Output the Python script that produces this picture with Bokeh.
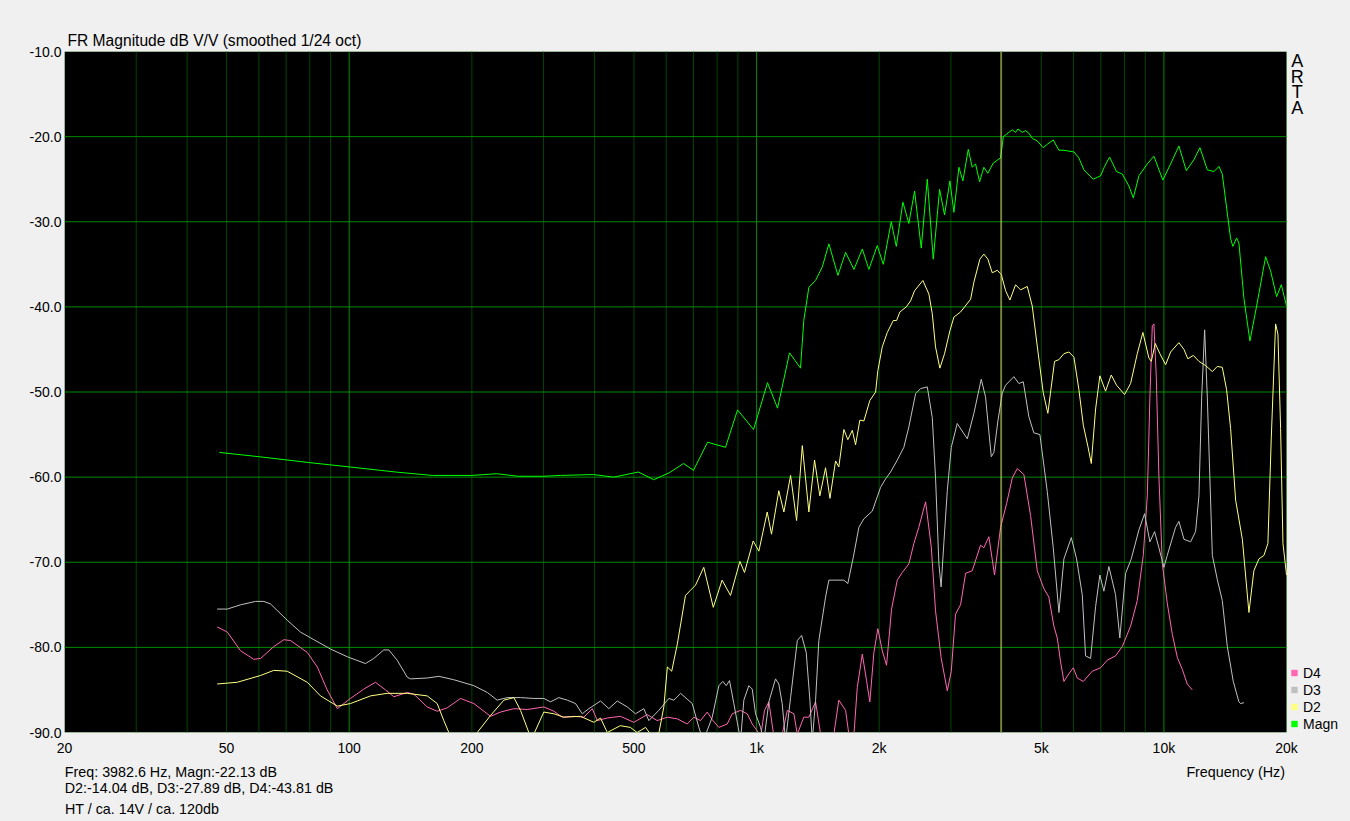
from bokeh.plotting import figure
from bokeh.models import (Range1d, FixedTicker, Span, Legend, LegendItem, LogAxis, Label,
                          BoxAnnotation, NumeralTickFormatter)
from bokeh.embed import file_html
from bokeh.resources import INLINE

# ---------------- data ----------------
magn_f = [48, 60, 80, 100, 130, 160, 200, 230, 260, 300, 330, 398, 446, 513, 559, 610,
          662, 700, 758, 839, 898, 983, 1064, 1126, 1205, 1282, 1306, 1344, 1396, 1450,
          1505, 1584, 1654, 1734, 1818, 1887, 1978, 2047, 2141, 2203, 2287, 2365, 2443,
          2537, 2625, 2715, 2814, 2894, 2983, 3051, 3139, 3210, 3309, 3384, 3448, 3528,
          3614, 3697, 3812, 3972, 4034, 4163, 4244, 4324, 4381, 4491, 4575, 4661, 4751,
          4887, 5056, 5172, 5350, 5524, 5682, 6012, 6184, 6362, 6707, 6990, 7150, 7355,
          7651, 7904, 8204, 8411, 8682, 9105, 9450, 9940, 10386, 10884, 11350, 11850,
          12260, 12780, 13270, 13650, 13910, 14580, 14770, 15080, 15280, 15720, 16260,
          16890, 17770, 18280, 18910, 19420, 20000]
magn_db = [-57.1, -57.6, -58.3, -58.8, -59.4, -59.8, -59.8, -59.6, -59.9, -59.9, -59.8,
           -59.7, -60.0, -59.4, -60.3, -59.5, -58.4, -59.2, -55.9, -56.5, -52.1, -54.4,
           -48.9, -51.9, -45.4, -47.2, -41.6, -37.7, -36.9, -35.3, -32.6, -36.3, -33.6,
           -35.6, -33.2, -35.6, -32.8, -35.0, -30.0, -32.9, -27.7, -30.2, -26.4, -33.1,
           -25.0, -34.4, -26.2, -29.2, -25.2, -28.9, -23.6, -25.2, -21.5, -23.6, -23.2,
           -25.3, -23.6, -24.3, -23.1, -22.5, -20.0, -19.5, -19.2, -19.5, -19.1, -19.5,
           -19.3, -19.6, -20.2, -20.5, -21.3, -20.9, -20.4, -21.6, -21.6, -21.8, -22.5,
           -23.9, -25.0, -24.6, -23.5, -22.4, -24.1, -24.4, -25.8, -27.2, -24.6, -23.2,
           -22.3, -25.1, -23.2, -21.1, -24.0, -22.7, -21.3, -23.9, -24.1, -23.5, -24.4,
           -32.0, -32.9, -31.9, -32.5, -39.0, -44.0, -39.9, -34.1, -35.8, -38.8, -37.4,
           -39.9]

d2_f = [47.4, 53.1, 60.6, 65.3, 70.4, 78.9, 85.0, 93.5, 100.7, 112.8, 123.9, 138.8, 155.4,
        164.4, 170.7, 175.6, 190, 206.2, 222.3, 239.7, 253.6, 263.4, 276, 280, 285.1,
        300.4, 318, 336.4, 369.7, 398.6, 414, 430, 463, 490, 509, 534, 549, 576, 592, 604,
        619, 639, 669, 688, 708, 742, 783, 823, 863, 910, 934, 981, 1013, 1062, 1088, 1134,
        1167, 1212, 1254, 1295, 1344, 1388, 1430, 1477, 1514, 1563, 1592, 1638, 1675, 1718,
        1750, 1793, 1834, 1897, 1960, 1985, 2035, 2094, 2166, 2207, 2248, 2331, 2388, 2443,
        2560, 2649, 2700, 2750, 2818, 2894, 2983, 3051, 3168, 3241, 3353, 3416, 3533, 3614,
        3697, 3790, 3899, 3988, 4087, 4187, 4324, 4448, 4619, 4751, 4887, 5056, 5189, 5389,
        5524, 5682, 5844, 6012, 6184, 6341, 6508, 6633, 6797, 6963, 7191, 7426, 7651, 8006,
        8284, 8602, 8879, 9186, 9312, 9524, 9775, 10097, 10386, 10884, 11200, 11450, 11810,
        12190, 12660, 13150, 13520, 13910, 14250, 14580, 15000, 15580, 16170, 16630, 17110,
        17600, 18000, 18350, 18800, 19050, 19340, 19600, 20000]
d2_db = [-84.3, -84.1, -83.3, -82.7, -82.8, -84.1, -85.7, -86.9, -86.6, -85.7, -85.4, -85.4,
         -85.7, -86.6, -88.6, -90.0, -93.0, -90.0, -88.0, -86.2, -85.9, -87.4, -90.0, -91.0,
         -90.0, -87.6, -87.8, -88.2, -88.1, -88.8, -88.3, -90.0, -89.2, -89.4, -90.0, -89.4,
         -90.2, -90.0, -87.0, -82.3, -82.8, -79.6, -73.9, -73.3, -72.7, -70.6, -75.3, -72.1,
         -73.9, -69.9, -71.2, -67.5, -68.7, -64.1, -66.7, -61.6, -64.1, -59.8, -65.1, -56.3,
         -64.1, -58.0, -62.2, -58.9, -62.5, -58.1, -58.8, -54.4, -55.6, -54.5, -56.2, -53.3,
         -53.4, -51.0, -50.0, -47.5, -44.7, -43.0, -41.6, -41.6, -40.6, -40.0, -39.3, -38.1,
         -36.9, -38.5, -40.8, -44.7, -47.2, -45.5, -42.8, -41.2, -40.6, -40.0, -39.1, -37.1,
         -34.4, -33.8, -34.4, -36.0, -35.7, -36.2, -38.1, -39.2, -37.4, -38.0, -37.6, -39.9,
         -44.6, -50.1, -52.5, -46.4, -46.2, -45.5, -45.3, -45.9, -49.7, -53.9, -56.4, -58.4,
         -52.0, -48.1, -49.9, -48.0, -49.2, -50.3, -49.0, -45.5, -43.0, -46.0, -46.4, -44.3,
         -45.5, -46.8, -45.3, -44.2, -45.0, -46.1, -45.7, -46.4, -46.9, -47.6, -47.0, -47.1,
         -49.7, -54.3, -62.7, -67.3, -75.9, -71.0, -69.6, -69.2, -67.8, -55.3, -42.0, -43.2,
         -54.3, -67.8, -71.5]

d3_f = [47.4, 50.2, 54.1, 58.9, 61.7, 64.1, 70.4, 75.9, 81.9, 90.0, 98.9, 109.6, 114.9,
        121.6, 125.1, 131.1, 138.8, 141.4, 155.4, 166, 180.6, 202.3, 218.3, 230.8, 244.3,
        263.4, 283.9, 300.4, 312, 327, 343, 359.4, 373.3, 387.5, 414, 433.8, 455, 481.4,
        504.5, 528.7, 543.9, 575.5, 609, 626.5, 650.8, 695.2, 721.6, 740, 778.4, 808, 826.4,
        842.4, 858.2, 879.4, 901.6, 913.4, 930.6, 957.2, 975.8, 994.2, 1023, 1042, 1072,
        1113, 1134, 1156, 1178, 1212, 1259, 1290, 1324, 1352, 1370, 1396, 1422, 1477, 1505,
        1548, 1638, 1675, 1728, 1783, 1834, 1923, 2016, 2074, 2133, 2215, 2299, 2365, 2457,
        2527, 2625, 2700, 2750, 2803, 2838, 2883, 2939, 3006, 3109, 3291, 3416, 3561, 3649,
        3769, 3825, 3913, 4011, 4087, 4282, 4405, 4516, 4661, 4794, 4961, 5172, 5350, 5524,
        5682, 5925, 6103, 6303, 6422, 6607, 6797, 6963, 7122, 7326, 7608, 7795, 8052, 8316,
        8682, 8965, 9239, 9487, 9721, 10000, 10190, 10680, 10884, 11200, 11630, 11960,
        12190, 12380, 12590, 12780, 13150, 13520, 13910, 14310, 14800, 15280, 15430, 15720]
d3_db = [-75.5, -75.5, -75.0, -74.6, -74.6, -74.9, -76.8, -78.2, -79.1, -80.2, -81.1, -81.9,
         -81.3, -80.3, -80.3, -81.5, -83.5, -83.7, -83.6, -83.4, -83.8, -84.5, -85.3, -86.2,
         -85.9, -85.9, -86.0, -86.0, -86.4, -85.9, -86.2, -86.6, -87.8, -87.2, -86.3, -87.2,
         -86.3, -87.0, -87.8, -87.2, -88.6, -87.4, -86.0, -86.2, -85.4, -86.6, -89.4, -91.0,
         -88.2, -84.5, -84.0, -84.5, -83.9, -86.6, -89.4, -91.0, -86.2, -84.5, -84.9, -87.8,
         -89.4, -91.0, -86.4, -83.7, -84.3, -86.6, -91.0, -85.9, -79.2, -78.6, -80.6, -86.2,
         -91.0, -86.2, -79.2, -74.1, -72.1, -72.1, -72.1, -72.5, -69.4, -65.9, -64.9, -64.0,
         -61.2, -60.2, -59.4, -58.0, -56.5, -54.1, -50.2, -49.6, -49.4, -53.0, -60.0, -70.2,
         -72.9, -67.7, -61.6, -56.5, -53.7, -55.5, -52.5, -48.5, -50.6, -57.6, -57.1, -53.4,
         -50.1, -49.2, -48.2, -49.0, -48.8, -52.9, -54.8, -55.0, -61.7, -68.3, -75.9, -69.6,
         -67.1, -69.6, -73.8, -81.0, -81.3, -75.2, -71.5, -73.4, -70.5, -73.8, -78.9, -71.3,
         -69.6, -66.2, -64.3, -67.6, -66.4, -68.3, -70.6, -69.2, -65.9, -65.2, -67.3, -67.6,
         -66.4, -62.2, -50.6, -42.7, -50.6, -69.2, -72.0, -74.5, -79.9, -84.0, -86.4, -86.6,
         -86.5]

d4_f = [47.4, 50.2, 54.1, 58.3, 60.6, 65.3, 69.1, 71.8, 78.9, 83.5, 88.3, 93.5, 100.7, 108.6,
        116, 122.8, 128.7, 138.8, 144.1, 155.4, 164.4, 174, 187.6, 202.3, 222.3, 235.2,
        253.6, 273.5, 300.4, 318, 333.4, 355.9, 376.7, 395.1, 406.4, 430, 463, 499.6, 538.9,
        570.3, 604, 639, 675.8, 701.5, 728.5, 756.7, 778.4, 808, 847.2, 871.6, 913.4, 948.7,
        975.8, 1004, 1023, 1046, 1072, 1103, 1130, 1156, 1190, 1235, 1259, 1306, 1344, 1396,
        1436, 1490, 1548, 1592, 1654, 1685, 1710, 1734, 1767, 1818, 1862, 1897, 1941, 1985,
        2035, 2085, 2145, 2215, 2279, 2365, 2433, 2502, 2600, 2685, 2750, 2838, 2939, 3006,
        3079, 3168, 3260, 3384, 3547, 3614, 3718, 3839, 3972, 4110, 4244, 4365, 4532, 4706,
        4887, 5074, 5219, 5369, 5473, 5576, 5682, 5844, 5993, 6128, 6341, 6671, 6990, 7261,
        7608, 7904, 8284, 8602, 8898, 9105, 9239, 9364, 9450, 9579, 9721, 9908, 10190,
        10490, 10790, 11100, 11410, 11740]
d4_db = [-77.6, -78.2, -80.4, -81.4, -81.3, -79.9, -79.1, -79.2, -80.6, -82.3, -85.0, -87.2,
         -86.0, -84.9, -84.1, -85.0, -85.8, -85.3, -85.5, -87.0, -87.5, -87.1, -86.0, -86.6,
         -88.1, -87.6, -87.2, -87.3, -87.0, -87.5, -88.2, -88.1, -88.2, -87.2, -88.6, -88.3,
         -88.1, -88.8, -87.9, -88.6, -88.2, -88.4, -89.0, -88.2, -88.6, -87.6, -88.5, -89.4,
         -89.0, -87.8, -87.4, -87.8, -89.0, -89.8, -90.5, -87.4, -86.4, -90.5, -93.0, -90.2,
         -87.4, -87.8, -90.2, -88.2, -88.2, -86.4, -90.2, -93.0, -90.2, -86.2, -87.4, -90.2,
         -91.0, -90.2, -84.7, -80.8, -83.9, -86.4, -80.6, -77.8, -80.4, -82.1, -75.5, -72.1,
         -71.2, -70.2, -67.8, -65.9, -62.9, -68.2, -75.7, -81.2, -85.1, -82.8, -76.1, -75.0,
         -71.3, -71.0, -68.0, -68.3, -67.0, -71.5, -65.9, -63.1, -60.1, -59.0, -59.7, -64.5,
         -71.0, -73.1, -74.1, -77.5, -78.9, -81.7, -84.0, -83.1, -82.4, -83.6, -84.0, -82.8,
         -82.4, -81.5, -81.0, -79.9, -77.5, -74.5, -69.2, -62.2, -50.6, -42.2, -42.0, -48.3,
         -59.9, -70.1, -74.8, -78.5, -81.2, -82.6, -84.3, -85.0]

x_tick_values = [20, 50, 100, 200, 500, 1000, 2000, 5000, 10000, 20000]
x_tick_labels = ["20", "50", "100", "200", "500", "1k", "2k", "5k", "10k", "20k"]
y_tick_values = [-90, -80, -70, -60, -50, -40, -30, -20, -10]
f_min, f_max = 20, 20000
db_min, db_max = -90, -10
cursor_freq = 3982.6

title_text = "FR Magnitude dB V/V (smoothed 1/24 oct)"
info_lines = ["Freq: 3982.6 Hz, Magn:-22.13 dB",
              "D2:-14.04 dB, D3:-27.89 dB, D4:-43.81 dB",
              "HT / ca. 14V / ca. 120db"]
x_axis_title = "Frequency (Hz)"
legend_names = ["D4", "D3", "D2", "Magn"]
brand = ["A", "R", "T", "A"]
# text anchors (Hz / dB)
info_anchor_f = [36.5, 42.8, 31.0]
x_title_anchor_f = 15000
brand_anchor_f = 21250
brand_anchor_db = [-11.12, -12.97, -14.81, -16.65]

# ---------------- styling ----------------
FONT = "Liberation Sans"
BG = "#f0f0f0"
colors = {"Magn": "#00ff00", "D2": "#ffff80", "D3": "#c0c0c0", "D4": "#ff66b3"}
GRID_MAJOR = "#008a00"
GRID_MINOR = "#004600"
FRAME = "#00a800"

# the frame extends to the window's right edge so the legend / brand text
# at the right of the black plot area is not clipped
p = figure(x_axis_type="log", x_range=Range1d(f_min, 28712), y_range=Range1d(db_min, db_max),
           frame_width=1286, frame_height=681,
           min_border_left=64, min_border_right=0, min_border_top=51, min_border_bottom=89,
           output_backend="svg", toolbar_location=None, tools="")
p.background_fill_color = BG
p.border_fill_color = BG
p.outline_line_color = None
p.xgrid.visible = False
p.ygrid.visible = False

# black plot area with its green border
p.add_layout(BoxAnnotation(left=f_min, right=f_max, bottom=db_min, top=db_max,
                           fill_color="#000000", fill_alpha=1.0,
                           line_color=FRAME, line_width=1, level="underlay"))

# title
p.title.text = title_text
p.title.align = "left"
p.title.offset = 3
p.title.standoff = 5
p.title.text_font = FONT
p.title.text_font_size = "15.6px"
p.title.text_font_style = "normal"
p.title.text_color = "#000000"

# grid lines
decades = [100, 1000, 10000]
minor = []
for base in [10, 100, 1000]:
    for k in range(2, 10):
        v = base * k
        if f_min < v < f_max:
            minor.append(v)
p.segment(x0=minor, x1=minor, y0=[db_min] * len(minor), y1=[db_max] * len(minor),
          line_color=GRID_MINOR, line_width=1)
p.segment(x0=decades, x1=decades, y0=[db_min] * len(decades), y1=[db_max] * len(decades),
          line_color=GRID_MAJOR, line_width=1)
hgrid = y_tick_values[1:-1]
p.segment(x0=[f_min] * len(hgrid), x1=[f_max] * len(hgrid), y0=hgrid, y1=hgrid,
          line_color=GRID_MAJOR, line_width=1)


def plain_axis(ax, size="14px"):
    ax.axis_line_color = None
    ax.major_tick_line_color = None
    ax.minor_tick_line_color = None
    ax.major_tick_out = 0
    ax.major_tick_in = 0
    ax.major_label_text_font = FONT
    ax.major_label_text_font_size = size
    ax.major_label_text_color = "#000000"


# main axes
xa = p.xaxis[0]
xa.ticker = FixedTicker(ticks=x_tick_values, minor_ticks=[])
xa.major_label_overrides = {v: s for v, s in zip(x_tick_values, x_tick_labels)}
plain_axis(xa)
xa.major_label_standoff = 7
ya = p.yaxis[0]
ya.ticker = FixedTicker(ticks=y_tick_values, minor_ticks=[])
ya.formatter = NumeralTickFormatter(format="0.0")
plain_axis(ya)
ya.major_label_standoff = 3

# info rows under the chart (row 1 also carries the x-axis title on the right)
row1 = LogAxis(ticker=FixedTicker(ticks=[info_anchor_f[0], x_title_anchor_f], minor_ticks=[]),
               major_label_overrides={info_anchor_f[0]: info_lines[0], x_title_anchor_f: x_axis_title})
plain_axis(row1, "14.3px")
row1.major_label_standoff = 5
p.add_layout(row1, "below")
row2 = LogAxis(ticker=FixedTicker(ticks=[info_anchor_f[1]], minor_ticks=[]),
               major_label_overrides={info_anchor_f[1]: info_lines[1]})
plain_axis(row2, "14.3px")
row2.major_label_standoff = -3
p.add_layout(row2, "below")
row3 = LogAxis(ticker=FixedTicker(ticks=[info_anchor_f[2]], minor_ticks=[]),
               major_label_overrides={info_anchor_f[2]: info_lines[2]})
plain_axis(row3, "14.3px")
row3.major_label_standoff = 2
p.add_layout(row3, "below")

# curves
series = {"D4": (d4_f, d4_db), "D3": (d3_f, d3_db), "D2": (d2_f, d2_db), "Magn": (magn_f, magn_db)}
for name in ["D4", "D3", "D2", "Magn"]:
    fx, dy = series[name]
    p.line(fx, dy, line_color=colors[name], line_width=1)

# cursor
p.add_layout(Span(location=cursor_freq, dimension="height", line_color="#dcd670", line_width=1))

# "ARTA" letters at the right edge
for ch, yv in zip(brand, brand_anchor_db):
    p.add_layout(Label(x=brand_anchor_f, y=yv, text=ch, text_font=FONT, text_font_size="18px",
                       text_color="#000000", text_align="center", text_baseline="alphabetic"))

# legend with square swatches (swatch renderers are zero-size markers on each series' first point)
sq = {}
for name in legend_names:
    fx, dy = series[name]
    sq[name] = p.scatter(x=fx[:1], y=dy[:1], marker="square", fill_color=colors[name],
                         line_color=None, size=0)
legend = Legend(items=[LegendItem(label=n, renderers=[sq[n]]) for n in legend_names],
                location=(1222, 0), glyph_width=16, glyph_height=17, label_height=17,
                spacing=0, padding=0, margin=0, label_standoff=1,
                label_text_font=FONT, label_text_font_size="14px", label_text_color="#000000",
                background_fill_alpha=0, border_line_alpha=0)
p.add_layout(legend)

html = file_html(p, INLINE, title="FR Magnitude")
html = html.replace("</head>", "<style>html, body {background:#f0f0f0;}</style></head>", 1)
open("out.html", "w").write(html)
